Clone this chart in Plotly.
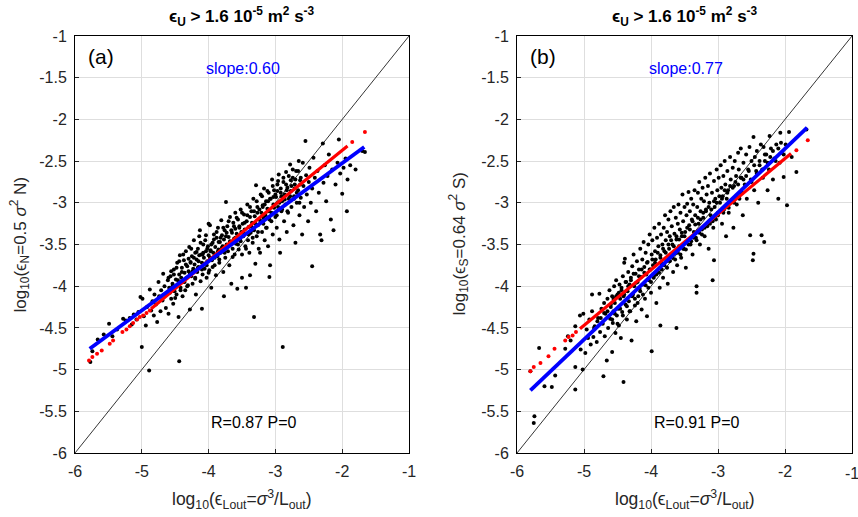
import plotly.graph_objects as go

# ---- panel (a): log10(eps_N) vs log10(eps_Lout) ----
a_x = [-5.77, -5.74, -5.66, -5.57, -5.49, -5.44, -5.37, -5.28, -5.24, -5.18, -5.15, -5.12,
       -5.08, -5.05, -5.02, -5.0, -4.99, -4.97, -4.94, -4.92, -4.89, -4.88, -4.86, -4.84,
       -4.82, -4.81, -4.79, -4.77, -4.75, -4.74, -4.72, -4.71, -4.69, -4.68, -4.66, -4.64,
       -4.63, -4.61, -4.6, -4.59, -4.57, -4.56, -4.54, -4.53, -4.52, -4.51, -4.49, -4.48,
       -4.47, -4.46, -4.45, -4.44, -4.44, -4.43, -4.42, -4.41, -4.4, -4.39, -4.38, -4.37,
       -4.36, -4.35, -4.34, -4.33, -4.32, -4.31, -4.3, -4.29, -4.28, -4.27, -4.26, -4.25,
       -4.24, -4.23, -4.22, -4.21, -4.2, -4.2, -4.19, -4.18, -4.17, -4.16, -4.15, -4.14,
       -4.13, -4.12, -4.11, -4.1, -4.1, -4.09, -4.08, -4.07, -4.06, -4.05, -4.04, -4.03,
       -4.02, -4.01, -4.0, -4.0, -3.99, -3.98, -3.97, -3.96, -3.95, -3.94, -3.93, -3.92,
       -3.91, -3.9, -3.89, -3.88, -3.87, -3.86, -3.85, -3.84, -3.83, -3.82, -3.81, -3.8,
       -3.79, -3.78, -3.77, -3.77, -3.76, -3.75, -3.74, -3.73, -3.72, -3.71, -3.7, -3.69,
       -3.68, -3.67, -3.66, -3.65, -3.64, -3.63, -3.62, -3.61, -3.6, -3.6, -3.59, -3.58,
       -3.57, -3.56, -3.55, -3.54, -3.53, -3.52, -3.51, -3.5, -3.5, -3.49, -3.48, -3.47,
       -3.46, -3.45, -3.44, -3.43, -3.42, -3.41, -3.4, -3.39, -3.38, -3.38, -3.37, -3.36,
       -3.35, -3.34, -3.33, -3.32, -3.32, -3.31, -3.3, -3.29, -3.28, -3.27, -3.26, -3.25,
       -3.24, -3.23, -3.22, -3.21, -3.2, -3.19, -3.18, -3.17, -3.16, -3.15, -3.14, -3.13,
       -3.12, -3.11, -3.1, -3.09, -3.09, -3.08, -3.07, -3.06, -3.05, -3.04, -3.03, -3.02,
       -3.0, -2.99, -2.98, -2.97, -2.96, -2.95, -2.94, -2.93, -2.92, -2.91, -2.9, -2.89,
       -2.88, -2.87, -2.86, -2.85, -2.84, -2.83, -2.82, -2.81, -2.8, -2.78, -2.77, -2.76,
       -2.74, -2.73, -2.72, -2.71, -2.7, -2.69, -2.68, -2.66, -2.65, -2.64, -2.63, -2.62,
       -2.6, -2.59, -2.58, -2.57, -2.55, -2.54, -2.53, -2.51, -2.5, -2.49, -2.47, -2.45,
       -2.45, -2.43, -2.41, -2.39, -2.37, -2.35, -2.33, -2.31, -2.29, -2.28, -2.26, -2.24,
       -2.22, -2.2, -2.17, -2.15, -2.13, -2.1, -2.07, -2.05, -2.03, -2.0, -1.98, -1.95,
       -1.93, -1.92, -1.88, -1.8, -1.7, -1.66]
a_y = [-4.91, -4.78, -4.64, -4.58, -4.45, -4.6, -4.52, -4.39, -4.41, -4.38, -4.46, -4.34,
       -4.4, -4.31, -4.13, -4.73, -4.15, -4.36, -4.47, -4.25, -5.01, -4.04, -4.29, -4.18,
       -4.35, -4.1, -4.22, -4.43, -3.95, -4.12, -4.3, -4.05, -4.17, -3.85, -4.0, -4.26,
       -4.1, -3.93, -4.33, -4.02, -3.88, -4.15, -3.97, -4.21, -3.8, -4.06, -3.92, -4.1,
       -3.72, -3.98, -4.37, -4.9, -3.86, -3.63, -4.02, -3.9, -3.78, -4.12, -3.95, -3.69,
       -3.84, -4.05, -3.58, -3.9, -3.76, -3.99, -3.82, -3.53, -4.28, -3.71, -3.88, -3.64,
       -3.97, -3.79, -3.45, -3.74, -3.91, -3.6, -4.1, -3.68, -3.83, -3.55, -3.77, -3.4,
       -3.33, -3.94, -3.62, -4.27, -3.72, -3.86, -3.5, -3.66, -3.79, -3.45, -3.58, -3.9,
       -3.7, -3.52, -3.25, -3.63, -3.81, -3.27, -3.57, -4.02, -3.69, -3.48, -3.6, -3.38,
       -3.75, -3.53, -3.87, -3.42, -3.64, -3.3, -3.56, -3.72, -3.47, -3.6, -3.21, -3.39,
       -3.52, -3.83, -4.12, -3.44, -3.33, -3.66, -2.99, -3.5, -3.28, -3.58, -3.41, -3.75,
       -3.17, -3.47, -3.97, -3.36, -3.55, -3.24, -3.43, -3.62, -3.31, -3.12, -3.49, -3.37,
       -4.03, -3.2, -3.56, -3.28, -3.44, -3.08, -3.35, -3.9, -3.62, -3.25, -3.4, -3.14,
       -3.32, -3.52, -4.02, -3.22, -3.02, -3.45, -3.29, -3.6, -3.87, -3.17, -3.36, -3.1,
       -3.24, -3.48, -2.95, -4.37, -3.33, -3.16, -3.73, -2.79, -3.4, -3.05, -3.27, -3.55,
       -3.2, -3.6, -2.9, -3.12, -3.35, -3.03, -3.25, -2.83, -3.45, -3.15, -2.98, -3.3,
       -3.07, -3.52, -2.88, -3.89, -3.2, -3.75, -2.95, -3.12, -2.72, -3.38, -3.02, -2.85,
       -3.17, -2.93, -3.3, -2.78, -3.05, -2.66, -3.44, -3.6, -2.88, -3.1, -2.98, -4.73,
       -2.75, -3.22, -2.9, -3.02, -2.63, -3.35, -2.82, -3.12, -2.95, -2.54, -2.86, -3.05,
       -2.7, -3.27, -2.92, -2.78, -3.48, -2.62, -3.0, -2.85, -2.5, -3.15, -2.73, -2.94,
       -3.38, -2.52, -2.8, -3.05, -2.26, -2.67, -2.9, -3.22, -2.75, -2.58, -3.0, -3.76,
       -2.83, -2.46, -2.7, -3.1, -2.62, -2.88, -3.38, -3.45, -2.29, -2.76, -2.55, -2.98,
       -2.68, -2.42, -3.2, -2.6, -3.33, -2.78, -2.52, -2.24, -2.65, -2.89, -2.58, -2.47,
       -3.1, -2.72, -2.55, -2.6, -2.38, -2.39]
# the dense core of cloud (a)
a_core_x = [-4.6, -4.58, -4.56, -4.54, -4.52, -4.5, -4.48, -4.46, -4.44, -4.42, -4.4, -4.38,
            -4.36, -4.34, -4.32, -4.3, -4.28, -4.26, -4.24, -4.22, -4.2, -4.18, -4.16, -4.14,
            -4.12, -4.1, -4.08, -4.06, -4.04, -4.02, -4.0, -3.98, -3.96, -3.94, -3.92, -3.9,
            -3.88, -3.86, -3.84, -3.82, -3.8, -3.78, -3.76, -3.74, -3.72, -3.7, -3.68, -3.66,
            -3.64, -3.62, -3.6, -3.58, -3.56, -3.54, -3.52, -3.5, -3.48, -3.46, -3.44, -3.42,
            -3.4, -3.38, -3.36, -3.34, -3.32, -3.3, -3.28, -3.26, -3.24, -3.22, -3.2, -3.18,
            -3.16, -3.14, -3.12, -3.1, -3.08, -3.06, -3.04, -3.02, -3.0, -2.98, -2.96, -2.94,
            -2.92, -2.9, -2.88, -2.86, -2.84, -2.82, -2.8, -2.78, -2.76, -2.74, -2.72, -2.7,
            -2.68, -2.66, -2.64, -2.62, -4.27, -4.21, -4.15, -4.09, -4.03, -3.97, -3.91, -3.85,
            -3.79, -3.73, -3.27, -3.19, -3.11, -3.03, -2.97, -2.91, -2.83, -2.77, -2.71, -2.63]
a_core_y = [-3.9, -4.08, -3.82, -4.0, -3.86, -4.14, -3.78, -3.93, -3.7, -4.05, -3.83, -3.62,
            -3.95, -3.74, -4.0, -3.67, -3.85, -3.55, -3.82, -3.66, -3.9, -3.59, -3.78, -3.63,
            -3.48, -3.8, -3.6, -3.73, -3.39, -3.55, -3.84, -3.66, -3.5, -3.77, -3.44, -3.62,
            -3.35, -3.58, -3.68, -3.42, -3.54, -3.3, -3.6, -3.4, -3.52, -3.22, -3.46, -3.33,
            -3.65, -3.28, -3.42, -3.18, -3.5, -3.3, -3.46, -3.12, -3.36, -3.24, -3.55, -3.15,
            -3.38, -3.05, -3.28, -3.42, -3.1, -3.25, -2.98, -3.35, -3.08, -3.22, -2.92, -3.18,
            -3.02, -3.3, -2.86, -3.1, -2.95, -3.22, -2.8, -3.06, -2.9, -3.15, -2.74, -3.0,
            -2.83, -3.08, -2.7, -2.96, -2.78, -3.1, -2.68, -2.92, -2.8, -2.6, -2.95, -2.72,
            -2.88, -2.62, -3.0, -2.7, -3.72, -3.81, -3.7, -3.62, -3.75, -3.58, -3.66, -3.47,
            -3.58, -3.36, -3.12, -3.05, -2.98, -2.93, -2.86, -2.92, -2.85, -2.73, -2.83, -2.78]

# binned red curve (a): sparse dots at the low end, dense segment, two trailing dots
a_red_dots_x = [-5.79, -5.74, -5.67, -5.6, -5.48, -5.43, -5.29, -5.23, -5.18, -5.13,
                -5.07, -5.03, -4.98, -4.93, -4.88, -1.85, -1.66]
a_red_dots_y = [-4.89, -4.85, -4.81, -4.77, -4.69, -4.65, -4.55, -4.52, -4.48, -4.44,
                -4.4, -4.37, -4.35, -4.32, -4.29, -2.27, -2.15]
a_red_line_x = [-4.86, -3.0, -1.92]
a_red_line_y = [-4.27, -3.02, -2.32]
# least-squares fit (a)
a_fit_x = [-5.78, -1.67]
a_fit_y = [-4.75, -2.33]

# ---- panel (b): log10(eps_S) vs log10(eps_Lout) ----
b_x = [-5.8, -5.75, -5.74, -5.67, -5.59, -5.48, -5.43, -5.28, -5.24, -5.2, -5.13, -5.13,
       -5.13, -5.06, -5.05, -5.02, -5.01, -4.98, -4.96, -4.94, -4.92, -4.9, -4.88, -4.88,
       -4.86, -4.84, -4.81, -4.79, -4.77, -4.76, -4.74, -4.72, -4.71, -4.7, -4.69, -4.68,
       -4.66, -4.65, -4.64, -4.62, -4.61, -4.6, -4.58, -4.58, -4.57, -4.56, -4.55, -4.54,
       -4.53, -4.52, -4.51, -4.5, -4.49, -4.48, -4.47, -4.46, -4.45, -4.44, -4.43, -4.42,
       -4.41, -4.41, -4.4, -4.39, -4.38, -4.37, -4.36, -4.35, -4.34, -4.33, -4.32, -4.31,
       -4.3, -4.29, -4.28, -4.27, -4.26, -4.25, -4.24, -4.23, -4.22, -4.21, -4.2, -4.19,
       -4.18, -4.17, -4.16, -4.15, -4.14, -4.13, -4.12, -4.11, -4.1, -4.09, -4.08, -4.07,
       -4.06, -4.05, -4.04, -4.03, -4.02, -4.01, -4.0, -3.99, -3.99, -3.98, -3.97, -3.96,
       -3.95, -3.94, -3.93, -3.92, -3.91, -3.9, -3.89, -3.88, -3.87, -3.86, -3.86, -3.85,
       -3.84, -3.83, -3.82, -3.81, -3.8, -3.79, -3.78, -3.77, -3.76, -3.75, -3.74, -3.73,
       -3.72, -3.71, -3.7, -3.69, -3.68, -3.67, -3.66, -3.65, -3.64, -3.63, -3.62, -3.62,
       -3.61, -3.6, -3.59, -3.58, -3.57, -3.56, -3.55, -3.54, -3.53, -3.52, -3.51, -3.5,
       -3.49, -3.48, -3.47, -3.46, -3.45, -3.44, -3.43, -3.42, -3.41, -3.4, -3.39, -3.38,
       -3.37, -3.36, -3.35, -3.34, -3.33, -3.32, -3.32, -3.31, -3.3, -3.29, -3.28, -3.27,
       -3.26, -3.25, -3.24, -3.23, -3.22, -3.21, -3.2, -3.19, -3.18, -3.17, -3.16, -3.15,
       -3.14, -3.13, -3.12, -3.11, -3.09, -3.08, -3.07, -3.06, -3.06, -3.05, -3.04, -3.03,
       -3.02, -3.01, -3.0, -2.99, -2.97, -2.96, -2.95, -2.94, -2.93, -2.92, -2.91, -2.9,
       -2.89, -2.88, -2.87, -2.86, -2.85, -2.84, -2.82, -2.81, -2.8, -2.78, -2.77, -2.76,
       -2.75, -2.73, -2.72, -2.7, -2.69, -2.67, -2.66, -2.65, -2.63, -2.62, -2.6, -2.58,
       -2.57, -2.55, -2.53, -2.52, -2.51, -2.5, -2.48, -2.47, -2.47, -2.46, -2.45, -2.43,
       -2.42, -2.4, -2.38, -2.36, -2.35, -2.33, -2.32, -2.31, -2.3, -2.28, -2.26, -2.24,
       -2.23, -2.21, -2.18, -2.16, -2.13, -2.1, -2.08, -2.07, -2.05, -2.02, -1.99, -1.97,
       -1.94, -1.9, -1.83, -1.68]
b_y = [-5.02, -5.64, -5.56, -4.74, -5.2, -5.21, -5.07, -4.75, -4.6, -4.65, -5.24, -4.97,
       -4.48, -4.35, -4.76, -5.0, -4.33, -4.8, -4.52, -4.62, -4.4, -4.7, -4.1, -4.3,
       -4.61, -4.48, -4.67, -4.38, -4.09, -4.55, -4.27, -4.45, -5.08, -4.2, -4.6, -4.33,
       -4.89, -4.15, -4.5, -4.05, -4.39, -4.25, -4.79, -4.12, -4.44, -4.3, -4.0, -4.2,
       -4.56, -3.93, -4.35, -4.1, -4.27, -4.47, -3.98, -4.15, -4.62, -4.05, -4.31, -3.88,
       -5.15, -4.12, -3.72, -3.67, -4.22, -3.95, -4.4, -4.06, -3.83, -4.18, -3.98, -4.3,
       -3.9, -4.65, -3.76, -4.1, -3.62, -4.0, -4.23, -3.85, -4.42, -3.7, -3.95, -4.12,
       -3.8, -4.03, -3.55, -3.89, -4.28, -3.68, -3.98, -3.47, -3.77, -4.15, -3.6, -3.86,
       -4.36, -3.71, -3.5, -3.93, -3.38, -3.8, -4.08, -4.78, -3.62, -3.45, -3.75, -3.88,
       -3.3, -3.58, -3.68, -4.2, -3.42, -3.82, -3.52, -3.25, -4.02, -4.47, -3.63, -3.38,
       -3.73, -3.5, -3.9, -3.3, -3.58, -3.15, -3.45, -3.7, -3.35, -3.97, -3.2, -3.55,
       -3.4, -3.1, -3.65, -3.28, -3.5, -3.83, -3.05, -3.37, -3.6, -3.18, -4.5, -3.44,
       -3.75, -3.25, -3.02, -3.52, -3.32, -3.12, -3.66, -3.4, -2.9, -3.22, -3.55, -3.05,
       -3.35, -3.78, -3.15, -3.01, -3.45, -2.87, -3.27, -3.1, -3.5, -2.95, -3.2, -3.62,
       -3.02, -3.35, -2.85, -3.15, -3.42, -4.08, -4.0, -3.05, -2.88, -3.25, -2.75, -3.5,
       -3.1, -2.95, -3.32, -2.82, -3.18, -2.98, -3.4, -2.7, -3.08, -2.9, -3.25, -2.8,
       -3.55, -3.0, -2.65, -3.15, -2.88, -3.93, -3.3, -3.69, -2.74, -3.05, -2.95, -3.2,
       -2.6, -2.85, -3.12, -2.7, -3.0, -2.55, -2.82, -3.25, -2.92, -2.68, -3.08, -2.5,
       -2.78, -3.4, -2.95, -2.62, -2.85, -3.12, -2.45, -2.72, -2.98, -2.58, -3.3, -2.8,
       -2.5, -2.68, -3.02, -2.4, -2.6, -2.88, -2.35, -2.7, -3.15, -2.52, -2.78, -2.42,
       -2.95, -2.6, -2.33, -3.39, -2.72, -2.5, -3.69, -3.61, -2.21, -2.85, -2.45, -2.62,
       -2.38, -3.0, -2.55, -2.3, -3.39, -2.7, -2.33, -3.47, -2.5, -2.42, -2.85, -2.6,
       -2.2, -2.35, -2.72, -2.47, -2.3, -2.95, -2.52, -2.16, -2.4, -2.69, -2.3, -3.03,
       -2.15, -2.45, -2.63, -2.12]
# the dense core of cloud (b)
b_core_x = [-4.6, -4.58, -4.56, -4.54, -4.52, -4.5, -4.48, -4.46, -4.44, -4.42, -4.4, -4.38,
            -4.36, -4.34, -4.32, -4.3, -4.28, -4.26, -4.24, -4.22, -4.2, -4.18, -4.16, -4.14,
            -4.12, -4.1, -4.08, -4.06, -4.04, -4.02, -4.0, -3.98, -3.96, -3.94, -3.92, -3.9,
            -3.88, -3.86, -3.84, -3.82, -3.8, -3.78, -3.76, -3.74, -3.72, -3.7, -3.68, -3.66,
            -3.64, -3.62, -3.6, -3.58, -3.56, -3.54, -3.52, -3.5, -3.48, -3.46, -3.44, -3.42,
            -3.4, -3.38, -3.36, -3.34, -3.32, -3.3, -3.28, -3.26, -3.24, -3.22, -3.2, -3.18,
            -3.16, -3.14, -3.12, -3.1, -3.08, -3.06, -3.04, -3.02, -3.0, -2.98, -2.96, -2.94,
            -2.92, -2.9, -2.88, -2.86, -2.84, -2.82, -2.8, -2.78, -2.76, -2.74, -2.72, -2.7,
            -2.68, -2.66, -2.64, -2.62, -4.85, -4.8, -4.75, -4.7, -4.65, -2.58, -2.54, -2.5,
            -2.46, -2.42, -2.38, -2.34, -2.3, -2.26, -2.22, -2.18, -2.14, -2.1, -2.06, -2.02]
b_core_y = [-4.22, -4.4, -4.15, -4.33, -4.12, -4.45, -4.08, -4.27, -4.02, -4.35, -4.1, -3.95,
            -4.24, -4.0, -4.3, -3.93, -4.12, -3.85, -4.15, -3.96, -4.2, -3.88, -4.06, -3.8,
            -4.1, -3.84, -3.99, -3.72, -4.02, -3.8, -3.95, -3.68, -3.9, -3.72, -3.86, -3.6,
            -3.84, -3.66, -3.8, -3.55, -3.75, -3.6, -3.78, -3.5, -3.7, -3.45, -3.66, -3.52,
            -3.68, -3.4, -3.6, -3.44, -3.62, -3.36, -3.55, -3.4, -3.56, -3.3, -3.5, -3.32,
            -3.46, -3.22, -3.42, -3.26, -3.45, -3.18, -3.36, -3.2, -3.38, -3.12, -3.3, -3.1,
            -3.28, -3.05, -3.25, -3.08, -3.22, -2.98, -3.18, -3.0, -3.15, -2.92, -3.1, -2.95,
            -3.12, -2.85, -3.05, -2.88, -3.06, -2.8, -2.98, -2.82, -3.0, -2.75, -2.92, -2.78,
            -2.95, -2.7, -2.88, -2.72, -4.5, -4.42, -4.38, -4.32, -4.3, -2.68, -2.62, -2.75,
            -2.55, -2.65, -2.5, -2.6, -2.42, -2.52, -2.45, -2.38, -2.5, -2.35, -2.28, -2.42]

b_red_dots_x = [-5.8, -5.75, -5.65, -5.53, -5.44, -5.28, -5.23, -5.17, -5.12, -1.83, -1.66]
b_red_dots_y = [-5.02, -4.97, -4.92, -4.84, -4.75, -4.65, -4.61, -4.59, -4.55, -2.37, -2.25]
b_red_line_x = [-5.06, -3.5, -1.91]
b_red_line_y = [-4.51, -3.47, -2.41]
b_fit_x = [-5.8, -1.67]
b_fit_y = [-5.25, -2.1]

one_to_one = [-6, -1]
x_ticks = [-6, -5, -4, -3, -2, -1]
y_ticks = [-6, -5.5, -5, -4.5, -4, -3.5, -3, -2.5, -2, -1.5, -1]

FONT = "Liberation Sans, Arial, Helvetica, sans-serif"
TXT = "#262626"

panels = [
    dict(sx=a_x + a_core_x, sy=a_y + a_core_y, rdx=a_red_dots_x, rdy=a_red_dots_y,
         rlx=a_red_line_x, rly=a_red_line_y, fx=a_fit_x, fy=a_fit_y,
         tag="(a)", slope="slope:0.60", stats="R=0.87 P=0",
         ylab="log<sub>10</sub>(ϵ<sub>N</sub>=0.5 <i>σ</i><sup>2</sup> N)"),
    dict(sx=b_x + b_core_x, sy=b_y + b_core_y, rdx=b_red_dots_x, rdy=b_red_dots_y,
         rlx=b_red_line_x, rly=b_red_line_y, fx=b_fit_x, fy=b_fit_y,
         tag="(b)", slope="slope:0.77", stats="R=0.91 P=0",
         ylab="log<sub>10</sub>(ϵ<sub>S</sub>=0.64 <i>σ</i><sup>2</sup> S)"),
]

W, H = 858, 517
x_domains = [[75 / W, 409 / W], [517 / W, 852 / W]]
y_domain = [1 - 453 / H, 1 - 36 / H]
ylab_x = [20 / W, 459 / W]

fig = go.Figure()
annotations = []
for i, p in enumerate(panels):
    n = "" if i == 0 else str(i + 1)
    xa, ya = "x" + n, "y" + n
    fig.add_trace(go.Scatter(x=one_to_one, y=one_to_one, mode="lines",
                             line=dict(color="black", width=0.8), xaxis=xa, yaxis=ya))
    fig.add_trace(go.Scatter(x=p["sx"], y=p["sy"], mode="markers",
                             marker=dict(color="black", size=4), xaxis=xa, yaxis=ya))
    fig.add_trace(go.Scatter(x=p["rlx"], y=p["rly"], mode="lines",
                             line=dict(color="#ff0000", width=3.2), xaxis=xa, yaxis=ya))
    fig.add_trace(go.Scatter(x=p["rdx"], y=p["rdy"], mode="markers",
                             marker=dict(color="#ff0000", size=4), xaxis=xa, yaxis=ya))
    fig.add_trace(go.Scatter(x=p["fx"], y=p["fy"], mode="lines",
                             line=dict(color="#0000ff", width=3.8), xaxis=xa, yaxis=ya))

    # the right panel's last x label sits on the page edge; it is placed as an annotation
    xt = x_ticks if i == 0 else x_ticks[:-1]
    axis_common = dict(range=[-6, -1], showgrid=True, gridcolor="#dedede", gridwidth=1,
                       zeroline=False, showline=True, mirror=True, linecolor="black",
                       linewidth=1, ticks="inside", ticklen=4, tickcolor=TXT,
                       automargin=False, ticklabelstandoff=4,
                       tickfont=dict(family=FONT, size=16, color=TXT))
    fig.update_layout(**{
        "xaxis" + n: dict(axis_common, domain=x_domains[i], tickvals=xt,
                          ticktext=[str(v) for v in xt], anchor=ya),
        "yaxis" + n: dict(axis_common, domain=y_domain, tickvals=y_ticks,
                          ticktext=[f"{v:g}" for v in y_ticks], anchor=xa),
    })

    xr = xa + " domain"
    annotations += [
        dict(text=p["tag"], x=-5.61, y=-1.24, xref=xa, yref=ya, showarrow=False,
             font=dict(family=FONT, size=21, color="black")),
        dict(text=p["slope"], x=-3.48, y=-1.39, xref=xa, yref=ya, showarrow=False,
             font=dict(family=FONT, size=16, color="#0000ff")),
        dict(text=p["stats"], x=-3.32, y=-5.64, xref=xa, yref=ya, showarrow=False,
             font=dict(family=FONT, size=16, color="black")),
        dict(text="<b>ϵ<sub>U</sub> > 1.6 10<sup>-5</sup> m<sup>2</sup> s<sup>-3</sup></b>",
             x=0.5, y=1 - 16 / H, xref=xr, yref="paper", yanchor="middle",
             showarrow=False, font=dict(family=FONT, size=17, color="black")),
        dict(text="log<sub>10</sub>(ϵ<sub>Lout</sub>=<i>σ</i><sup>3</sup>/L<sub>out</sub>)",
             x=0.5, y=1 - 499 / H, xref=xr, yref="paper", yanchor="middle",
             showarrow=False, font=dict(family=FONT, size=17.5, color=TXT)),
        dict(text=p["ylab"], x=ylab_x[i], y=0.5 * (y_domain[0] + y_domain[1]), xref="paper",
             yref="paper", xanchor="center", yanchor="middle", showarrow=False, textangle=-90,
             font=dict(family=FONT, size=17, color=TXT)),
    ]

annotations.append(dict(text=str(x_ticks[-1]), x=x_ticks[-1], y=1 - 473 / H,
                        xref="x2", yref="paper", xanchor="center", yanchor="middle",
                        showarrow=False, font=dict(family=FONT, size=16, color=TXT)))

fig.update_layout(width=W, height=H, margin=dict(l=0, r=0, t=0, b=0),
                  paper_bgcolor="white", plot_bgcolor="white", showlegend=False,
                  annotations=annotations)

# drop the page's default body margin so the figure fills the window exactly
fig.write_html("out.html", config={"displayModeBar": False},
               post_script="document.body.style.margin='0';"
                           "document.body.style.overflow='hidden';")
